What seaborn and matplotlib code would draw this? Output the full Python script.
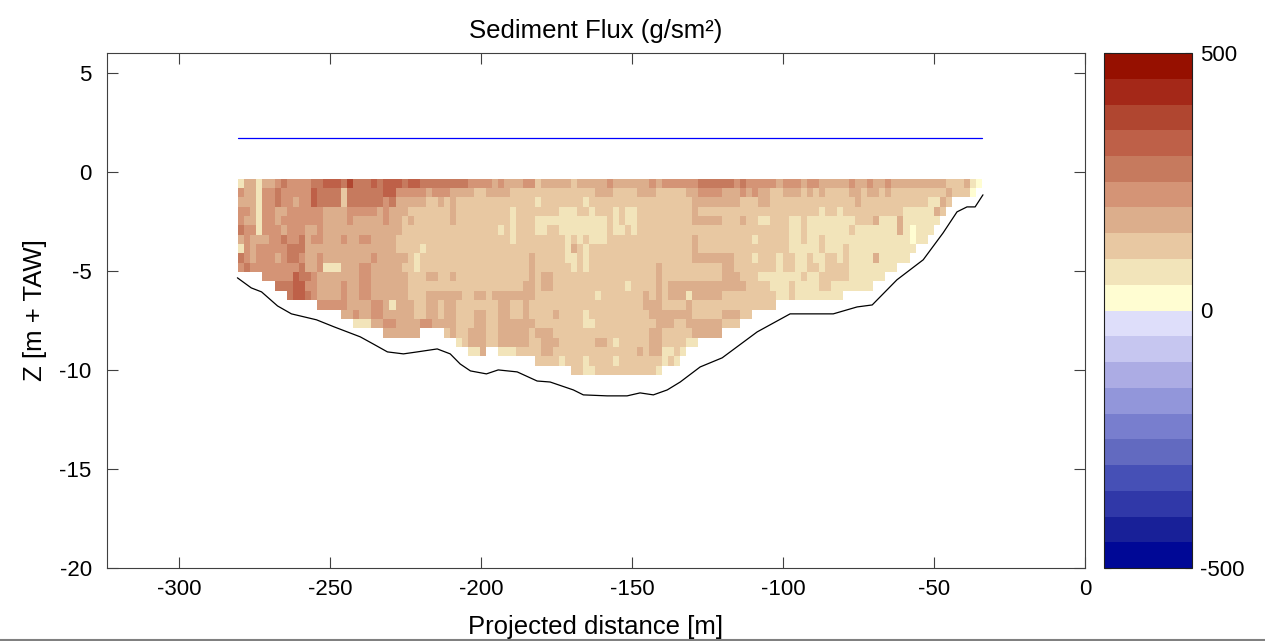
import numpy as np
import matplotlib
matplotlib.use("Agg")
import matplotlib.pyplot as plt
import seaborn as sns
from matplotlib.colors import ListedColormap, BoundaryNorm
from matplotlib.lines import Line2D
from matplotlib.ticker import NullLocator

sns.set_style("white")
plt.rcParams["font.family"] = ["Liberation Sans", "DejaVu Sans"]
plt.rcParams["axes.unicode_minus"] = False
plt.rcParams["text.color"] = "black"
plt.rcParams["axes.labelcolor"] = "black"
plt.rcParams["xtick.labelcolor"] = "black"
plt.rcParams["ytick.labelcolor"] = "black"

# ---------------- data ----------------
TITLE = "Sediment Flux (g/sm²)"
X_LABEL = "Projected distance [m]"
Y_LABEL = "Z [m + TAW]"
X_TICKS = [-300, -250, -200, -150, -100, -50, 0]
Y_TICKS = [-20, -15, -10, -5, 0, 5]
CBAR_TICKS = [-500, 0, 500]

# flux classes (bin width 50 g/sm², digit d -> bin (d-1)*50 .. d*50), '.' = no data
# each row = 6 segments of columns (20, 21, 21, 21, 21, 19), top row first
FLUX_ROWS = [
    ["24424456555566777686", "667677767766666666555", "545444553444443444445", "444444545555556666665", "655555455545544444544", "5445444444444333421"],
    ["54425565555576666366", "666677555554555444433", "444433333333333333444", "333344433333445555444", "545443344434343333443", "443433333333343331."],
    ["44425565545576666366", "666656444443343433333", "333333332333333323333", "333333333333344444444", "333443333333333333343", "33333333332243....."],
    ["55425544555555444455", "555454443333333433333", "333323333333222332333", "232233333333343333333", "333333333333323323333", "3333332222243......"],
    ["54425545555555444454", "444454434333333433333", "333323332222222222223", "232233333333344444333", "433223332232222222233", "342224222222......."],
    ["65525554555445444444", "444444433333333333333", "332323332233222222223", "223233333333333333333", "333333332232222222322", "22222421222........"],
    ["45444556556455444544", "554444333333333333333", "333323333333323232223", "333333333333343333333", "332333332232232222222", "2222222122........."],
    ["25455555666444444444", "444444333323333333333", "333333333333324323333", "333333333333343333333", "333333332222232223222", "22222222..........."],
    ["65455545665445444444", "445444443233333333333", "333333343333322323333", "333333333333344444443", "332333233223223323222", "2422222............"],
    ["56555555556445222444", "554444433233333333333", "333333343333332323333", "333333343333333333443", "333333233223323333222", "22222.............."],
    ["....5555576654444444", "554444443334433433333", "333333343443333333333", "333333343333333333444", "333222222232233333222", "222................"],
    ["......66677554444544", "554444443333333333333", "333333443443333333333", "332333343444444444444", "433332223222233222222", "2.................."],
    ["........677654444544", "554444443334444443344", "344444443333333333233", "333334343444244444333", "33333322322222222....", ""],
    ["." * 13 + "5555544", "445542444334434433333", "334433433333333333333", "333334443333433333333", "333333", ""],
    ["." * 17 + "445", "445544444334434433344", "334433433334333323333", "333333444444433333444", "33", ""],
    ["." * 19 + "2", "224455444455444433344", "334444443333333322333", "333333344433444444333", "", ""],
    ["", "....444444....3433444", "334444434443333333333", "333333443333344444...", "", ""],
    ["", "." * 16 + "23444", "334444433444333333443", "23333344333322.......", "", ""],
    ["", "." * 18 + "224", "..2223333443333333333", "333343442232.........", "", ""],
    ["", "", "." * 8 + "3333233323333", "23333333232..........", "", ""],
    ["", "", "." * 14 + "3322333", "33333332.............", "", ""],
]

# river bed profile
BED_X = [-280.8, -276.2, -272.8, -267.5, -262.9, -254.6, -248.7, -240.1, -235.8, -231.1,
         -225.8, -221.2, -214.6, -210.3, -207.0, -203.6, -198.3, -194.4, -188.1, -181.5,
         -177.2, -169.5, -166.2, -158.3, -151.7, -147.4, -143.0, -138.4, -134.1, -127.5,
         -120.2, -108.6, -97.7, -83.4, -75.5, -70.5, -62.3, -53.6, -47.0, -42.4,
         -39.1, -36.4, -33.8]
BED_Z = [-5.35, -5.86, -6.06, -6.77, -7.17, -7.47, -7.83, -8.33, -8.69, -9.09,
         -9.19, -9.09, -8.94, -9.19, -9.70, -10.05, -10.20, -10.00, -10.10, -10.56,
         -10.61, -11.01, -11.26, -11.31, -11.31, -11.16, -11.26, -11.01, -10.61, -9.85,
         -9.39, -8.08, -7.17, -7.17, -6.82, -6.72, -5.45, -4.44, -3.08, -2.02,
         -1.77, -1.77, -1.16]

# water level
WATER_X = [-280.5, -34.1]
WATER_Z = [1.72, 1.72]

# colour classes from -500 (bottom) to 500 (top)
LEVEL_COLORS = ["#000896", "#182098", "#3038A8", "#4650B6", "#626AC0",
                "#787ECE", "#9296DA", "#ACACE4", "#C6C6F0", "#DEDEFA",
                "#FFFDD2", "#F2E4BA", "#E8C8A2", "#DCAE8C", "#D49476",
                "#C67A5E", "#BE6048", "#B04630", "#A42818", "#961000"]

# ---------------- geometry ----------------
SEG_W = [20, 21, 21, 21, 21, 19]
GRID_X0, GRID_X1 = -280.5, -34.1
GRID_Z0, GRID_Z1 = -0.35, -10.25

rows = []
for segs in FLUX_ROWS:
    s = "".join(seg.ljust(w, ".")[:w] for seg, w in zip(segs, SEG_W))
    rows.append([np.nan if c == "." else int(c) * 50 - 25 for c in s])
flux = np.ma.masked_invalid(np.array(rows, dtype=float))
ncol = flux.shape[1]
nrow = flux.shape[0]
x_edges = np.linspace(GRID_X0, GRID_X1, ncol + 1)
z_edges = np.linspace(GRID_Z0, GRID_Z1, nrow + 1)

cmap = ListedColormap(LEVEL_COLORS)
bounds = np.arange(-500, 501, 50)
norm = BoundaryNorm(bounds, cmap.N)

# ---------------- figure ----------------
fig = plt.figure(figsize=(12.65, 6.41), dpi=100)
ax = fig.add_axes([107 / 1265, 73 / 641, 978 / 1265, 515 / 641])
cax = fig.add_axes([1104 / 1265, 73 / 641, 88 / 1265, 515 / 641])

mesh = ax.pcolormesh(x_edges, z_edges, flux, cmap=cmap, norm=norm, shading="flat",
                     edgecolors="none", antialiased=False)
sns.lineplot(x=BED_X, y=BED_Z, color="black", linewidth=0.9, sort=False,
             estimator=None, ax=ax)
sns.lineplot(x=WATER_X, y=WATER_Z, color="#0000FF", linewidth=0.9, sort=False,
             estimator=None, ax=ax)

ax.set_xlim(-324, 0)
ax.set_ylim(-20, 6)
ax.set_xticks(X_TICKS)
ax.set_yticks(Y_TICKS)
ax.tick_params(direction="in", length=8, width=0.8, color="#404040",
               labelcolor="black", top=True, right=True, bottom=True, left=True,
               labelsize=16)
ax.tick_params(axis="y", pad=11)
ax.tick_params(axis="x", pad=8)
for sp in ax.spines.values():
    sp.set_visible(True)
    sp.set_color("#404040")
    sp.set_linewidth(0.8)
ax.set_title(TITLE, fontsize=18.5, pad=11, color="black")
ax.set_xlabel(X_LABEL, fontsize=18.5, labelpad=11, color="black")
ax.set_ylabel(Y_LABEL, fontsize=18.5, labelpad=9, color="black")

cb = fig.colorbar(mesh, cax=cax, boundaries=bounds, ticks=CBAR_TICKS)
cb.minorticks_off()
cax.yaxis.set_minor_locator(NullLocator())
cb.outline.set_edgecolor("#202020")
cb.outline.set_linewidth(0.8)
cax.tick_params(which="major", direction="in", length=5, width=0.8, left=True,
                right=True, labelsize=16, pad=6, color="#404040", labelcolor="black")
cax.tick_params(which="minor", length=0)
cax.set_yticklabels([str(t) for t in CBAR_TICKS])

fig.add_artist(Line2D([0, 1], [0.002, 0.002], color="#808080", linewidth=1.5,
                      transform=fig.transFigure))

fig.savefig("out.png", dpi=100)
